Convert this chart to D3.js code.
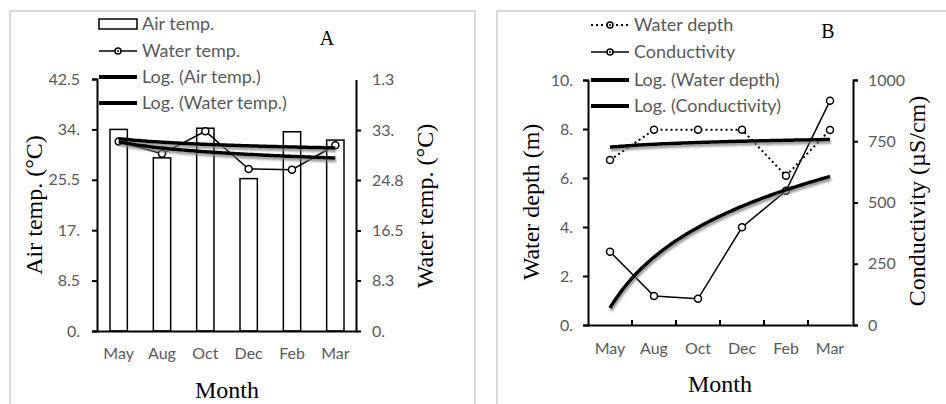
<!DOCTYPE html>
<html>
<head>
<meta charset="utf-8">
<script src="https://cdn.jsdelivr.net/npm/d3@7"></script>
<style>
  body { margin: 0; background: #fff; }
  .tick text { font-family: Lato, "Open Sans", sans-serif; font-size: 16px; fill: #595959; }
  .domain, .tick line { stroke: #000; stroke-width: 2px; }
  .ttl { font-family: "Liberation Serif", "Times New Roman", serif; fill: #000; }
  .leg { font-family: Lato, "Open Sans", sans-serif; font-size: 18px; fill: #595959; }
</style>
</head>
<body>
<div id="chart"></div>
<script>
// data
var months = ["May", "Aug", "Oct", "Dec", "Feb", "Mar"];
var airTemp = [34.0, 29.2, 34.2, 25.7, 33.6, 32.2];
var waterTemp = [31.1, 29.1, 32.8, 26.6, 26.5, 30.5];
var waterDepth = [6.73, 7.97, 7.97, 7.97, 6.09, 7.96];
var conductivity = [299, 118, 107, 399, 548, 915];

// tick values + the labels as printed
var airTicks = [0, 8.5, 17, 25.5, 34, 42.5];
var airLabels = ["0.", "8.5", "17.", "25.5", "34.", "42.5"];
var wtTicks = [0, 8.3, 16.5, 24.8, 33, 41.3];
var wtLabels = ["0.", "8.3", "16.5", "24.8", "33.", "1.3"];
var depthTicks = [0, 2, 4, 6, 8, 10];
var depthLabels = ["0.", "2.", "4.", "6.", "8.", "10."];
var condTicks = [0, 250, 500, 750, 1000];
var condLabels = ["0", "250", "500", "750", "1000"];

var svg = d3.select("#chart").append("svg")
  .attr("width", 946).attr("height", 404);

// soft gray shadow under the trend lines
var f = svg.append("defs").append("filter").attr("id", "shadow")
  .attr("x", "-10%").attr("y", "-50%").attr("width", "120%").attr("height", "200%");
f.append("feDropShadow").attr("dx", 1).attr("dy", 2.5).attr("stdDeviation", 1.3)
  .attr("flood-color", "#777").attr("flood-opacity", 0.8);

// panel frames
svg.append("rect").attr("x", 10).attr("y", 11).attr("width", 465).attr("height", 420)
  .attr("fill", "none").attr("stroke", "#d9d9d9").attr("stroke-width", 2);
svg.append("rect").attr("x", 497).attr("y", 11).attr("width", 470).attr("height", 420)
  .attr("fill", "none").attr("stroke", "#d9d9d9").attr("stroke-width", 2);

// log trendline y = a + b ln(x), x = 1..n (like Excel)
function logFit(vals) {
  var xs = vals.map(function(d, i) { return Math.log(i + 1); });
  var mx = d3.mean(xs), my = d3.mean(vals);
  var sxy = d3.sum(xs, function(x, i) { return (x - mx) * (vals[i] - my); });
  var sxx = d3.sum(xs, function(x) { return (x - mx) * (x - mx); });
  var b = sxy / sxx;
  return { a: my - b * mx, b: b };
}

function trend(g, vals, xFirst, xLast, yScale) {
  var fit = logFit(vals);
  var xt = d3.scaleLinear().domain([1, vals.length]).range([xFirst, xLast]);
  var pts = d3.range(0, 101).map(function(k) {
    var t = 1 + (vals.length - 1) * k / 100;
    return [xt(t), yScale(fit.a + fit.b * Math.log(t))];
  });
  g.append("path").attr("d", d3.line()(pts))
    .attr("fill", "none").attr("stroke", "#000").attr("stroke-width", 3.5)
    .attr("filter", "url(#shadow)");
}

function markers(g, vals, cx, yScale) {
  g.selectAll(null).data(vals).enter().append("circle")
    .attr("cx", function(d, i) { return cx(i); })
    .attr("cy", function(d) { return yScale(d); })
    .attr("r", 3.5).attr("fill", "#fff").attr("stroke", "#000").attr("stroke-width", 1.5);
}

function legendRow(x, y, label, kind) {
  var g = svg.append("g");
  if (kind == "bar") {
    g.append("rect").attr("x", x).attr("y", y - 5).attr("width", 38).attr("height", 10)
      .attr("fill", "#fff").attr("stroke", "#000").attr("stroke-width", 1.5);
  } else if (kind == "thick") {
    g.append("line").attr("x1", x).attr("x2", x + 38).attr("y1", y).attr("y2", y)
      .attr("stroke", "#000").attr("stroke-width", 4);
  } else {
    g.append("line").attr("x1", x).attr("x2", x + 38).attr("y1", y).attr("y2", y)
      .attr("stroke", "#000").attr("stroke-width", kind == "dot" ? 2 : 1.5)
      .attr("stroke-dasharray", kind == "dot" ? "2,3" : null);
    g.append("circle").attr("cx", x + 19).attr("cy", y).attr("r", 3)
      .attr("fill", "#fff").attr("stroke", "#000").attr("stroke-width", 1.5);
    g.append("circle").attr("cx", x + 19).attr("cy", y).attr("r", 1).attr("fill", "#000");
  }
  g.append("text").attr("class", "leg").attr("x", x + 43).attr("y", y + 6).text(label);
}

function yTitle(x, y, label) {
  svg.append("text").attr("class", "ttl").attr("font-size", 24)
    .attr("text-anchor", "middle")
    .attr("transform", "translate(" + x + "," + y + ") rotate(-90)")
    .text(label);
}

// ---------------- Panel A ----------------
var xA = d3.scaleBand().domain(months).range([97, 357]).paddingInner(0.6).paddingOuter(0.3);
var yAir = d3.scaleLinear().domain([0, 42.5]).range([331, 79]);
var yWt = d3.scaleLinear().domain([0, 41.3]).range([331, 79.5]);
var cxA = function(i) { return xA(months[i]) + xA.bandwidth() / 2; };

var gA = svg.append("g");
gA.selectAll("rect.bar").data(airTemp).enter().append("rect")
  .attr("class", "bar")
  .attr("x", function(d, i) { return xA(months[i]); })
  .attr("y", function(d) { return yAir(d); })
  .attr("width", xA.bandwidth())
  .attr("height", function(d) { return yAir(0) - yAir(d); })
  .attr("fill", "#fff").attr("stroke", "#000").attr("stroke-width", 1.5);

gA.append("path").datum(waterTemp)
  .attr("d", d3.line().x(function(d, i) { return cxA(i); }).y(function(d) { return yWt(d); }))
  .attr("fill", "none").attr("stroke", "#000").attr("stroke-width", 1.5);
markers(gA, waterTemp, cxA, yWt);

trend(gA, airTemp, cxA(0), cxA(5), yAir);
trend(gA, waterTemp, cxA(0), cxA(5), yWt);

svg.append("g").attr("transform", "translate(0,331)")
  .call(d3.axisBottom(xA).tickSize(0).tickPadding(17));
svg.append("g").attr("transform", "translate(97,0)")
  .call(d3.axisLeft(yAir).tickValues(airTicks)
    .tickFormat(function(d, i) { return airLabels[i]; })
    .tickSize(5).tickSizeOuter(5).tickPadding(12));
var rA = svg.append("g").attr("transform", "translate(356,0)")
  .call(d3.axisRight(yWt).tickValues(wtTicks)
    .tickFormat(function(d, i) { return wtLabels[i]; })
    .tickSize(5).tickSizeOuter(0).tickPadding(11));
rA.selectAll(".tick").filter(function(d) { return d == 41.3; }).select("line").remove();

legendRow(99, 24, "Air temp.", "bar");
legendRow(99, 51, "Water temp.", "line");
legendRow(99, 77, "Log. (Air temp.)", "thick");
legendRow(99, 103, "Log. (Water temp.)", "thick");

svg.append("text").attr("class", "ttl").attr("font-size", 20)
  .attr("x", 327).attr("y", 45).attr("text-anchor", "middle").text("A");
svg.append("text").attr("class", "ttl").attr("font-size", 24)
  .attr("x", 227).attr("y", 398).attr("text-anchor", "middle").text("Month");
yTitle(42, 205, "Air temp. (°C)");
yTitle(433, 206, "Water temp. (°C)");

// ---------------- Panel B ----------------
var xB = d3.scaleBand().domain(months).range([588, 852]);
var yDepth = d3.scaleLinear().domain([0, 10]).range([325, 80]);
var yCond = d3.scaleLinear().domain([0, 1000]).range([325, 80]);
var cxB = function(i) { return xB(months[i]) + xB.bandwidth() / 2; };

var gB = svg.append("g");
gB.append("path").datum(waterDepth)
  .attr("d", d3.line().x(function(d, i) { return cxB(i); }).y(function(d) { return yDepth(d); }))
  .attr("fill", "none").attr("stroke", "#000").attr("stroke-width", 2)
  .attr("stroke-dasharray", "2,3");
gB.append("path").datum(conductivity)
  .attr("d", d3.line().x(function(d, i) { return cxB(i); }).y(function(d) { return yCond(d); }))
  .attr("fill", "none").attr("stroke", "#000").attr("stroke-width", 1.5);
markers(gB, waterDepth, cxB, yDepth);
markers(gB, conductivity, cxB, yCond);

trend(gB, waterDepth, cxB(0), cxB(5), yDepth);
trend(gB, conductivity, cxB(0), cxB(5), yCond);

svg.append("g").attr("transform", "translate(0,325)")
  .call(d3.axisBottom(xB).tickSize(0).tickPadding(18));
// inward ticks on the category boundaries
svg.append("g").selectAll("line").data(months.slice(1)).enter().append("line")
  .attr("x1", function(m) { return xB(m); }).attr("x2", function(m) { return xB(m); })
  .attr("y1", 325).attr("y2", 320)
  .attr("stroke", "#000").attr("stroke-width", 2);
svg.append("g").attr("transform", "translate(588,0)")
  .call(d3.axisLeft(yDepth).tickValues(depthTicks)
    .tickFormat(function(d, i) { return depthLabels[i]; })
    .tickSize(5).tickSizeOuter(5).tickPadding(10));
svg.append("g").attr("transform", "translate(853,0)")
  .call(d3.axisRight(yCond).tickValues(condTicks)
    .tickFormat(function(d, i) { return condLabels[i]; })
    .tickSize(5).tickSizeOuter(5).tickPadding(10));

legendRow(591, 25, "Water depth", "dot");
legendRow(591, 52, "Conductivity", "line");
legendRow(591, 80, "Log. (Water depth)", "thick");
legendRow(591, 106, "Log. (Conductivity)", "thick");

svg.append("text").attr("class", "ttl").attr("font-size", 20)
  .attr("x", 828).attr("y", 38).attr("text-anchor", "middle").text("B");
svg.append("text").attr("class", "ttl").attr("font-size", 24)
  .attr("x", 720).attr("y", 392).attr("text-anchor", "middle").text("Month");
yTitle(539, 202, "Water depth (m)");
yTitle(925, 201, "Conductivity (µS/cm)");
</script>
</body>
</html>
